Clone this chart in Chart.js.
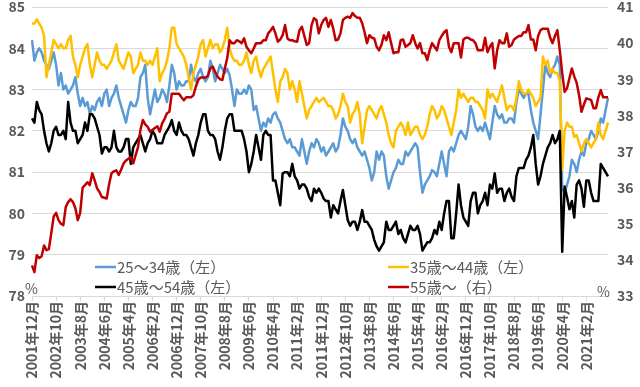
<!DOCTYPE html>
<html>
<head>
<meta charset="utf-8">
<script src="https://cdn.jsdelivr.net/npm/chart.js@4/dist/chart.umd.min.js"></script>
<style>
  html, body { margin: 0; padding: 0; background: #fff; }
  #wrap { width: 640px; height: 387px; }
</style>
</head>
<body>
<div id="wrap"><canvas id="chart" width="640" height="387"></canvas></div>
<script>
// 月次データ 2001年12月〜2021年11月（240か月）
const startYear = 2001;
const startMonth = 12;
const monthCount = 240;
const labelEvery = 10;

// 25～34歳（左軸, %）
const age25to34 = [
  84.2, 83.7, 83.9, 84.0, 83.9, 83.7, 83.6, 83.5, 83.7, 83.9, 83.6, 83.1,
  83.4, 83.0, 83.1, 82.9, 83.0, 83.1, 83.3, 82.9, 82.6, 82.8, 82.6, 82.7,
  82.4, 82.6, 82.5, 82.7, 82.8, 82.6, 82.9, 83.0, 82.6, 82.8, 82.9, 83.1,
  82.8, 82.6, 82.4, 82.2, 82.5, 82.7, 82.6, 82.6, 82.8, 83.3, 83.4, 83.6,
  82.8, 82.4, 82.7, 83.0, 82.7, 82.8, 83.0, 82.9, 82.7, 83.1, 83.6, 83.4,
  83.0, 83.2, 83.1, 83.1, 83.2, 83.2, 83.6, 83.3, 83.2, 83.4, 83.5, 83.3,
  83.2, 83.3, 83.7, 83.5, 83.2, 83.4, 83.6, 83.5, 83.4, 83.5, 83.35, 83.0,
  82.6, 83.0, 82.9, 82.9, 83.0, 82.9, 83.1, 83.0, 82.5, 82.6, 82.3, 82.0,
  82.2, 82.1, 82.3, 82.2, 82.4, 82.45, 82.3, 82.2, 82.0, 81.8, 81.7, 81.8,
  81.6, 81.6, 81.5, 81.4, 81.8, 81.5, 81.2, 81.5, 81.7, 81.6, 81.8, 81.7,
  81.5, 81.6, 81.4, 81.5, 81.6, 81.7, 81.5, 81.6, 81.9, 82.3, 82.1, 82.0,
  81.8, 81.7, 81.8, 81.6, 81.5, 81.4, 81.5, 81.3, 81.1, 80.8, 81.0, 81.5,
  81.3, 81.5, 81.4, 80.9, 80.6, 80.8, 81.0, 81.1, 81.3, 81.2, 81.2, 81.5,
  81.4, 81.5, 81.6, 81.7, 81.6, 81.0, 80.5, 80.7, 80.8, 80.9, 81.05, 81.0,
  80.9, 81.2, 81.5, 81.2, 80.9, 81.5, 81.6, 81.5, 81.7, 81.9, 82.0, 81.9,
  81.8, 82.1, 82.6, 82.4, 82.1, 82.0, 82.1, 82.0, 82.2, 82.0, 81.8, 82.2,
  82.6, 82.4, 82.3, 82.4, 82.2, 82.2, 82.3, 82.3, 82.2, 82.7, 83.0, 82.9,
  82.8, 82.9, 82.9, 82.5, 82.2, 82.0, 81.8, 82.4, 83.0, 83.6, 83.4, 83.3,
  83.5, 83.6, 83.8, 83.6, 80.6, 80.5, 80.7, 80.9, 81.3, 81.2, 81.0, 81.3,
  81.5, 81.4, 81.7, 81.8, 82.0, 81.9, 81.8, 82.0, 82.3, 82.2, 82.5, 82.8
];

// 35歳～44歳（左軸, %）
const age35to44 = [
  84.6, 84.6, 84.7, 84.6, 84.5, 84.3, 83.3, 83.6, 83.9, 84.2, 84.1, 84.0,
  84.1, 84.0, 84.0, 84.2, 84.3, 83.8, 83.6, 83.3, 83.6, 83.8, 84.0, 84.1,
  83.6, 83.3, 83.6, 83.9, 83.7, 83.6, 83.6, 83.5, 83.6, 83.7, 83.9, 84.1,
  83.7, 83.6, 83.5, 83.7, 83.9, 83.8, 83.4, 83.5, 83.6, 83.9, 83.7, 83.7,
  83.6, 83.7, 83.6, 83.8, 84.0, 83.2, 83.4, 83.5, 83.7, 84.0, 84.5, 84.5,
  84.1, 84.0, 83.9, 83.8, 83.6, 83.3, 83.0, 83.4, 83.6, 83.8, 84.1, 84.2,
  83.8, 84.0, 84.2, 84.0, 84.1, 84.1, 83.9, 84.0, 84.2, 84.5, 84.0, 83.8,
  83.7, 83.7, 83.6, 83.6, 83.7, 83.9, 83.6, 83.4, 83.7, 83.8, 83.5, 83.3,
  83.5, 83.6, 83.7, 83.8, 83.4, 83.0, 82.7, 83.2, 83.3, 83.5, 83.4, 83.0,
  83.2, 83.0, 82.7, 83.2, 82.9, 82.6, 82.3, 82.5, 82.6, 82.7, 82.8, 82.7,
  82.75, 82.8, 82.7, 82.6, 82.6, 82.5, 82.3, 82.4, 82.6, 82.9, 82.7, 82.6,
  82.2, 82.4, 82.5, 82.7, 82.4, 81.7, 82.1, 82.5, 82.6, 82.5, 82.4, 82.3,
  82.5, 82.6, 82.4, 82.2, 81.9, 81.7, 81.6, 82.0, 82.1, 82.2, 82.1, 81.9,
  82.2, 81.9, 82.0, 82.1, 82.1, 81.9, 81.8, 81.9, 82.1, 82.4, 82.6, 82.5,
  82.3, 82.4, 82.6, 82.5, 82.3, 82.1, 81.9, 82.2, 82.5, 83.0, 82.8, 82.9,
  82.8, 82.7, 82.8, 82.8, 82.7, 82.7, 82.6, 82.5, 82.3, 83.0, 82.8, 82.9,
  82.8, 82.7, 82.9, 83.1, 82.8, 82.5, 82.6, 82.6, 82.5, 82.8, 83.2, 83.0,
  82.9, 82.9, 83.0, 82.9, 82.8, 82.6, 82.7, 82.8, 83.8, 83.6, 83.7, 83.4,
  83.5, 83.4, 83.4, 83.2, 81.05, 82.0, 82.2, 82.1, 82.1, 81.85, 81.9, 81.7,
  81.5, 81.7, 81.8, 81.7, 81.6, 81.7, 81.8, 82.2, 81.9, 81.8, 82.0, 82.2
];

// 45歳～54歳（左軸, %）
const age45to54 = [
  82.3, 82.2, 82.7, 82.5, 82.4, 82.0, 81.7, 81.5, 81.7, 82.0, 82.1, 81.9,
  81.9, 82.0, 81.8, 82.7, 82.2, 82.0, 82.0, 81.7, 81.8, 81.9, 82.2, 82.0,
  82.4, 82.4, 82.3, 82.1, 81.9, 81.45, 81.6, 81.6, 81.5, 81.6, 82.0, 81.6,
  81.5, 81.5, 81.6, 81.8, 81.8, 81.2, 81.6, 81.7, 81.8, 81.9, 81.7, 81.5,
  81.7, 81.8, 82.0, 81.9, 81.7, 81.7, 81.7, 81.9, 82.0, 82.1, 82.26, 82.0,
  81.9, 82.2, 82.0, 81.9, 81.9, 81.8, 81.6, 81.4, 81.7, 81.9, 82.2, 82.4,
  82.4, 82.0, 81.9, 81.9, 81.8, 81.5, 81.3, 81.6, 82.0, 82.3, 82.4, 82.4,
  82.0, 82.0, 82.0, 82.0, 81.8, 81.5, 81.0, 81.2, 81.5, 81.9, 81.6, 81.3,
  81.9, 82.0, 81.9, 81.9, 80.8, 80.8, 80.5, 80.2, 80.97, 81.0, 81.0, 80.9,
  81.2, 80.9, 80.8, 80.6, 80.7, 80.7, 80.6, 80.4, 80.3, 80.6, 80.5, 80.6,
  80.5, 80.36, 80.3, 80.3, 79.9, 80.2, 80.1, 80.0, 80.3, 80.57, 80.2, 79.84,
  79.7, 79.8, 79.8, 79.6, 79.8, 80.08, 79.8, 79.8, 79.7, 79.6, 79.36, 79.2,
  79.1, 79.2, 79.3, 79.8, 79.6, 79.6, 79.7, 79.8, 79.5, 79.6, 79.4, 79.3,
  79.5, 79.7, 79.6, 79.6, 79.7, 79.5, 79.1, 79.2, 79.3, 79.3, 79.4, 79.6,
  79.5, 79.8, 79.6, 80.0, 80.3, 80.3, 79.4, 79.4, 80.0, 80.7, 80.2, 79.9,
  79.8, 79.7, 80.3, 80.5, 80.5, 80.0, 80.2, 80.3, 80.5, 80.2, 80.7, 80.6,
  80.97, 80.5, 80.6, 80.6, 80.3, 80.5, 80.6, 80.4, 80.3, 80.9, 81.1, 81.1,
  81.1, 81.3, 81.4, 81.6, 81.9, 81.2, 80.7, 80.9, 81.2, 81.4, 81.6, 81.7,
  81.9, 81.7, 81.8, 82.0, 79.07, 80.65, 80.4, 80.1, 80.3, 79.9, 80.7, 80.8,
  80.6, 80.16, 80.8, 80.8, 80.5, 80.3, 80.3, 80.3, 81.2, 81.1, 81.0, 80.9
];

// 55歳～（右軸, %）
const age55plus = [
  33.85, 33.66, 34.13, 34.05, 34.1, 34.4, 34.27, 34.3, 34.74, 35.2, 35.3, 35.1,
  35.0, 34.96, 35.46, 35.6, 35.68, 35.6, 35.43, 35.1, 35.3, 36.0, 36.07, 36.15,
  36.07, 36.4, 36.2, 35.98, 35.88, 35.74, 35.72, 35.7, 36.1, 36.4, 36.45, 36.48,
  36.35, 36.5, 36.67, 36.75, 36.8, 36.85, 36.67, 36.9, 37.12, 37.6, 37.87, 37.75,
  37.68, 37.55, 37.6, 37.65, 37.7, 37.55, 37.78, 37.9, 38.06, 38.1, 38.6, 38.6,
  38.6, 38.6, 38.5, 38.42, 38.5, 38.5, 38.5, 38.56, 38.8, 38.98, 39.05, 39.05,
  39.05, 39.1, 39.3, 39.35, 39.2, 39.07, 39.0, 38.98, 39.3, 39.58, 40.08, 40.0,
  40.0, 40.08, 40.05, 40.0, 40.13, 39.9, 39.8, 39.72, 39.85, 40.0, 40.0, 40.0,
  40.08, 40.08, 40.27, 40.35, 40.45, 40.27, 40.04, 40.1, 40.22, 40.5, 40.13, 40.08,
  40.08, 40.05, 40.04, 40.36, 40.45, 40.2, 39.95, 40.0, 40.5, 40.69, 40.64, 40.27,
  40.5, 40.64, 40.7, 40.45, 40.64, 40.4, 40.08, 40.1, 40.27, 40.64, 40.7, 40.73,
  40.7, 40.83, 40.75, 40.7, 40.7, 40.55, 40.3, 40.0, 40.22, 40.15, 40.13, 39.9,
  39.8, 39.95, 40.22, 40.08, 40.3, 40.0, 39.72, 39.75, 39.75, 40.08, 40.1, 39.9,
  39.95, 40.0, 40.22, 40.0, 39.85, 40.0, 39.72, 39.72, 39.53, 39.8, 40.0, 39.9,
  39.8, 40.08, 40.2, 40.3, 40.36, 39.9, 39.75, 40.0, 40.0, 40.0, 39.6, 40.1,
  40.15, 40.15, 40.1, 40.08, 40.0, 39.8, 39.8, 39.8, 40.15, 39.75, 39.9, 40.0,
  39.3, 39.8, 40.08, 40.0, 40.0, 40.27, 39.9, 39.95, 40.1, 40.15, 40.2, 40.2,
  40.3, 40.3, 40.5, 40.1, 40.1, 39.8, 40.2, 40.36, 40.4, 40.4, 40.4, 40.15,
  40.0, 40.2, 40.36, 39.8, 39.17, 38.65, 38.75, 39.03, 39.3, 39.08, 38.9, 38.56,
  38.1, 38.3, 38.47, 38.45, 38.42, 38.2, 38.2, 38.5, 38.7, 38.5, 38.5, 38.5
];

const seriesNames = ['25～34歳（左）', '35歳～44歳（左）', '45歳～54歳（左）', '55歳～（右）'];
const seriesColors = ['#5B9BD5', '#FFC000', '#000000', '#C00000'];

// 月ラベル
const monthLabels = [];
for (let i = 0; i < monthCount; i++) {
  const m = (startMonth - 1 + i) % 12 + 1;
  const y = startYear + Math.floor((startMonth - 1 + i) / 12);
  monthLabels.push(y + '年' + m + '月');
}

const FONT = '"Noto Sans CJK JP", "Noto Sans", sans-serif';
const GRAY = '#595959';
const GRID = '#D9D9D9';

// 凡例と単位（%）を描くプラグイン
const legendPlugin = {
  id: 'customLegend',
  afterDraw(chart) {
    const ctx = chart.ctx;
    const items = [
      { x: 95, y: 267, i: 0 },
      { x: 388, y: 267, i: 1 },
      { x: 95, y: 287, i: 2 },
      { x: 388, y: 287, i: 3 }
    ];
    ctx.save();
    items.forEach(it => {
      ctx.strokeStyle = seriesColors[it.i];
      ctx.lineWidth = 2.5;
      ctx.beginPath();
      ctx.moveTo(it.x, it.y);
      ctx.lineTo(it.x + 21, it.y);
      ctx.stroke();
      ctx.fillStyle = GRAY;
      ctx.font = '15px ' + FONT;
      ctx.textBaseline = 'middle';
      ctx.textAlign = 'left';
      ctx.fillText(seriesNames[it.i], it.x + 22, it.y);
    });
    ctx.font = '14px ' + FONT;
    ctx.fillStyle = GRAY;
    ctx.textBaseline = 'middle';
    ctx.textAlign = 'left';
    ctx.fillText('%', 25, 289);
    ctx.fillText('%', 597, 292);
    ctx.restore();
  }
};

const makeSet = (i, data, axis, order) => ({
  label: seriesNames[i],
  data: data,
  yAxisID: axis,
  borderColor: seriesColors[i],
  backgroundColor: seriesColors[i],
  borderWidth: 2.5,
  pointRadius: 0,
  tension: 0,
  borderJoinStyle: 'round',
  order: order
});

const noPad = s => { s.paddingTop = 0; s.paddingBottom = 0; s.width = 32; };

new Chart(document.getElementById('chart').getContext('2d'), {
  type: 'line',
  data: {
    labels: monthLabels,
    datasets: [
      makeSet(0, age25to34, 'yL', 3),
      makeSet(1, age35to44, 'yL', 2),
      makeSet(2, age45to54, 'yL', 1),
      makeSet(3, age55plus, 'yR', 0)
    ]
  },
  options: {
    responsive: false,
    animation: false,
    layout: { padding: { top: 7, left: 0, right: 0, bottom: 0 } },
    plugins: {
      legend: { display: false },
      tooltip: { enabled: false }
    },
    scales: {
      x: {
        offset: false,
        grid: {
          drawOnChartArea: false,
          drawTicks: true,
          tickLength: 5,
          color: ctx => (ctx.index % labelEvery === 0 ? GRID : 'rgba(0,0,0,0)')
        },
        border: { display: true, color: GRID },
        ticks: {
          autoSkip: false,
          maxRotation: 90,
          minRotation: 90,
          padding: 0,
          color: GRAY,
          font: { family: FONT, size: 14, weight: 'bold' },
          callback: function (v, i) {
            return i % labelEvery === 0 ? this.getLabelForValue(v) : '';
          }
        },
        afterFit: s => { s.height = 91; s.paddingLeft = 0; s.paddingRight = 0; }
      },
      yL: {
        position: 'left',
        min: 78,
        max: 85,
        grid: { color: GRID, drawTicks: false },
        border: { display: false },
        ticks: {
          stepSize: 1,
          padding: 7,
          color: GRAY,
          font: { family: FONT, size: 14, weight: 'bold' }
        },
        afterFit: noPad
      },
      yR: {
        position: 'right',
        min: 33,
        max: 41,
        grid: { drawOnChartArea: false, drawTicks: false },
        border: { display: false },
        ticks: {
          stepSize: 1,
          padding: 9,
          color: GRAY,
          font: { family: FONT, size: 14, weight: 'bold' }
        },
        afterFit: noPad
      }
    }
  },
  plugins: [legendPlugin]
});
</script>
</body>
</html>
